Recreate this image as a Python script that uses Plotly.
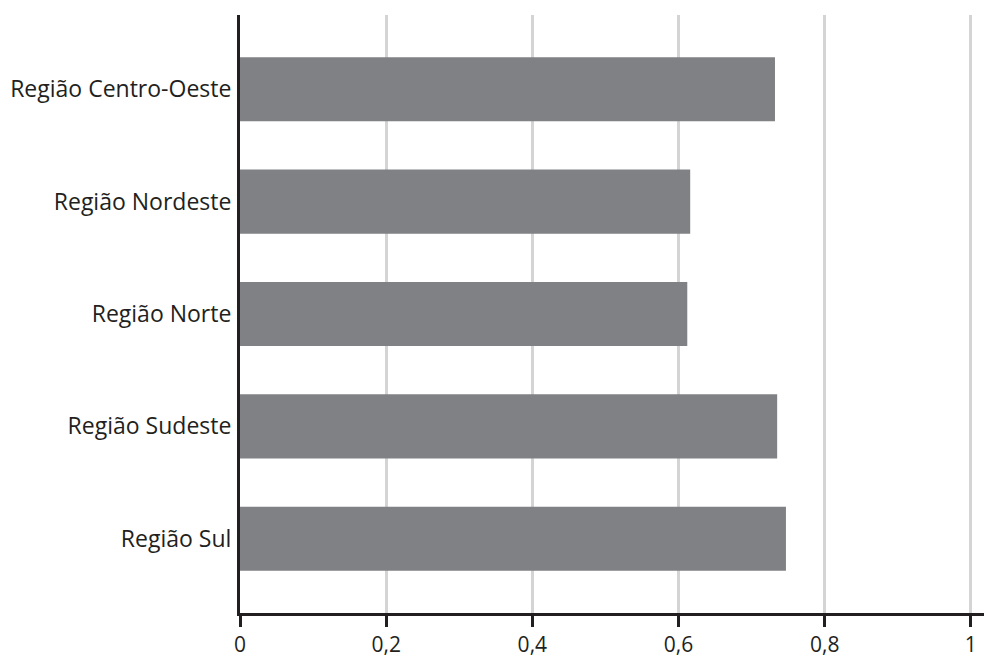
import plotly.graph_objects as go

categories = ["Região Sul", "Região Sudeste", "Região Norte", "Região Nordeste", "Região Centro-Oeste"]
values = [0.747, 0.735, 0.612, 0.616, 0.732]
x_tickvals = [0, 0.2, 0.4, 0.6, 0.8, 1]
x_ticktext = ["0", "0,2", "0,4", "0,6", "0,8", "1"]

FONT = "Open Sans"
TEXT = "#231f20"
SIZE = 23

fig = go.Figure(go.Bar(
    x=values, y=categories, orientation="h",
    marker=dict(color="#808184", line=dict(width=0)),
    hoverinfo="skip",
))

fig.update_layout(
    width=984, height=660,
    margin=dict(l=240, r=0, t=15, b=47, autoexpand=False),
    paper_bgcolor="white", plot_bgcolor="white",
    bargap=0.43,
    showlegend=False,
    font=dict(family=FONT, size=SIZE, color=TEXT),
)
fig.update_xaxes(
    range=[0, 1.018], tickvals=x_tickvals, ticktext=x_ticktext,
    showgrid=True, gridcolor="#d4d4d4", gridwidth=3,
    showline=True, linecolor=TEXT, linewidth=3,
    ticks="outside", ticklen=11, tickwidth=3, tickcolor=TEXT,
    ticklabelstandoff=0, automargin=False,
    zeroline=False, fixedrange=True,
    tickfont=dict(family=FONT, size=21, color=TEXT),
)
fig.update_yaxes(
    range=[-0.66, 4.66], showgrid=False,
    showline=True, linecolor=TEXT, linewidth=3,
    ticks="", ticklabelstandoff=1, automargin=False,
    tickfont=dict(family=FONT, size=SIZE, color=TEXT),
    fixedrange=True,
)

fig.write_html(
    "out.html",
    config={"displayModeBar": False},
    post_script="document.body.style.margin='0';document.body.style.overflow='hidden';",
)
